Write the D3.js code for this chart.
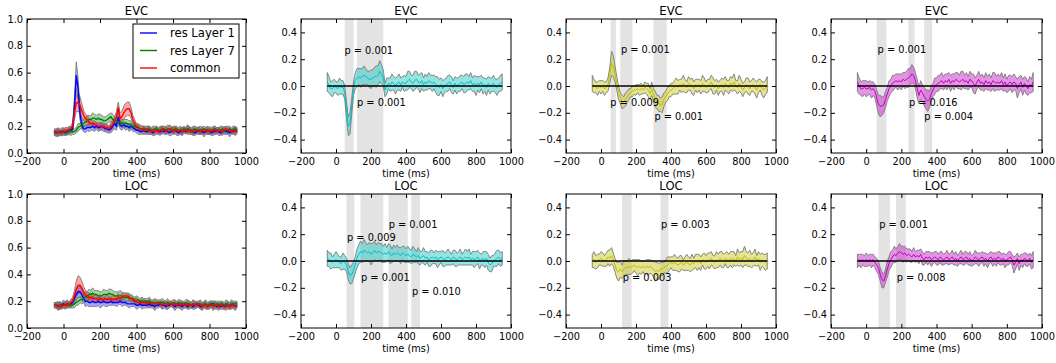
<!DOCTYPE html>
<html>
<head>
<meta charset="utf-8">
<script src="https://cdn.jsdelivr.net/npm/d3@7"></script>
<style>
body { margin: 0; background: #fff; }
text { font-family: "DejaVu Sans", sans-serif; fill: #000; }
</style>
</head>
<body>
<script>
// sampling grid of every series (ms)
var times = d3.range(-50, 951, 10);

// ---- EVC, decoding accuracy
var evcL1Mean = [
0.16,0.15,0.16,0.15,0.16,0.16,0.15,0.16,0.17,0.17,
0.18,0.35,0.58,0.48,0.30,0.21,0.18,0.18,0.19,0.19,
0.19,0.20,0.19,0.20,0.19,0.19,0.20,0.19,0.18,0.18,
0.17,0.18,0.20,0.22,0.20,0.27,0.21,0.20,0.21,0.20,
0.20,0.19,0.20,0.19,0.18,0.17,0.17,0.16,0.16,0.17,
0.16,0.16,0.17,0.16,0.15,0.16,0.17,0.16,0.16,0.17,
0.16,0.17,0.16,0.15,0.16,0.17,0.17,0.16,0.15,0.16,
0.16,0.17,0.16,0.18,0.17,0.16,0.16,0.15,0.16,0.17,
0.16,0.16,0.15,0.16,0.17,0.16,0.15,0.16,0.16,0.17,
0.16,0.15,0.16,0.17,0.16,0.16,0.15,0.16,0.16,0.17,
0.16];
var evcL1Err = [
0.02,0.03,0.02,0.02,0.03,0.02,0.02,0.02,0.03,0.02,
0.03,0.07,0.10,0.08,0.05,0.03,0.02,0.03,0.02,0.03,
0.02,0.03,0.03,0.02,0.03,0.02,0.03,0.03,0.02,0.03,
0.02,0.03,0.03,0.04,0.03,0.04,0.03,0.03,0.02,0.03,
0.02,0.03,0.02,0.03,0.02,0.02,0.03,0.02,0.02,0.03,
0.02,0.02,0.03,0.02,0.02,0.03,0.02,0.02,0.03,0.02,
0.02,0.03,0.02,0.02,0.03,0.02,0.02,0.03,0.02,0.02,
0.03,0.02,0.02,0.03,0.02,0.02,0.03,0.02,0.02,0.03,
0.02,0.02,0.03,0.02,0.03,0.02,0.02,0.03,0.02,0.02,
0.03,0.02,0.02,0.03,0.02,0.02,0.03,0.02,0.02,0.03,
0.02];
var evcL7Mean = [
0.15,0.15,0.16,0.15,0.15,0.16,0.16,0.15,0.16,0.16,
0.16,0.16,0.17,0.19,0.20,0.21,0.22,0.23,0.24,0.25,
0.25,0.26,0.26,0.25,0.26,0.25,0.25,0.24,0.24,0.25,
0.26,0.27,0.25,0.24,0.24,0.23,0.23,0.22,0.22,0.22,
0.22,0.21,0.21,0.20,0.20,0.19,0.19,0.18,0.18,0.18,
0.18,0.17,0.18,0.17,0.17,0.18,0.18,0.17,0.17,0.18,
0.18,0.17,0.18,0.18,0.17,0.17,0.18,0.18,0.17,0.17,
0.17,0.18,0.17,0.18,0.17,0.17,0.17,0.18,0.17,0.17,
0.17,0.17,0.18,0.17,0.17,0.16,0.17,0.17,0.18,0.17,
0.17,0.17,0.18,0.17,0.17,0.17,0.18,0.17,0.17,0.18,
0.17];
var evcL7Err = [
0.02,0.02,0.03,0.02,0.02,0.03,0.02,0.02,0.02,0.03,
0.02,0.02,0.02,0.03,0.02,0.03,0.03,0.03,0.04,0.03,
0.03,0.04,0.03,0.03,0.03,0.04,0.03,0.03,0.03,0.03,
0.03,0.03,0.04,0.03,0.03,0.03,0.03,0.03,0.03,0.03,
0.03,0.03,0.03,0.02,0.03,0.02,0.02,0.03,0.02,0.02,
0.02,0.03,0.02,0.02,0.03,0.02,0.02,0.02,0.03,0.02,
0.02,0.02,0.03,0.02,0.02,0.03,0.02,0.02,0.02,0.03,
0.02,0.02,0.02,0.03,0.02,0.02,0.03,0.02,0.02,0.02,
0.03,0.02,0.02,0.02,0.03,0.02,0.02,0.03,0.02,0.02,
0.02,0.03,0.02,0.02,0.03,0.02,0.02,0.02,0.03,0.02,
0.02];
var evcComMean = [
0.15,0.16,0.15,0.16,0.15,0.16,0.16,0.17,0.17,0.18,
0.20,0.30,0.37,0.38,0.36,0.32,0.28,0.26,0.25,0.23,
0.22,0.22,0.21,0.21,0.20,0.20,0.20,0.20,0.19,0.19,
0.18,0.20,0.21,0.24,0.27,0.34,0.26,0.27,0.30,0.32,
0.33,0.33,0.30,0.25,0.22,0.20,0.19,0.18,0.18,0.17,
0.17,0.18,0.17,0.16,0.17,0.16,0.17,0.16,0.17,0.17,
0.18,0.16,0.17,0.18,0.18,0.16,0.17,0.17,0.16,0.17,
0.16,0.17,0.17,0.16,0.17,0.16,0.16,0.17,0.17,0.16,
0.16,0.17,0.16,0.17,0.16,0.17,0.16,0.17,0.17,0.16,
0.17,0.17,0.16,0.17,0.18,0.17,0.17,0.16,0.17,0.16,
0.17];
var evcComErr = [
0.02,0.02,0.03,0.02,0.02,0.02,0.03,0.02,0.02,0.02,
0.03,0.05,0.06,0.07,0.06,0.05,0.04,0.03,0.03,0.03,
0.03,0.02,0.03,0.02,0.02,0.03,0.02,0.02,0.03,0.02,
0.02,0.03,0.03,0.03,0.04,0.04,0.04,0.04,0.05,0.05,
0.05,0.05,0.04,0.03,0.03,0.02,0.03,0.02,0.02,0.03,
0.02,0.02,0.03,0.02,0.02,0.02,0.03,0.02,0.02,0.03,
0.02,0.02,0.02,0.03,0.02,0.02,0.03,0.02,0.02,0.02,
0.03,0.02,0.02,0.02,0.03,0.02,0.02,0.03,0.02,0.02,
0.02,0.03,0.02,0.02,0.02,0.03,0.02,0.02,0.03,0.02,
0.02,0.02,0.03,0.02,0.02,0.03,0.02,0.02,0.02,0.03,
0.02];

// ---- LOC, decoding accuracy
var locL1Mean = [
0.17,0.17,0.16,0.17,0.17,0.18,0.17,0.18,0.17,0.18,
0.19,0.22,0.25,0.27,0.27,0.25,0.22,0.20,0.20,0.19,
0.19,0.20,0.19,0.19,0.20,0.19,0.19,0.20,0.19,0.19,
0.19,0.20,0.19,0.19,0.19,0.19,0.20,0.19,0.19,0.19,
0.18,0.18,0.18,0.18,0.18,0.17,0.17,0.18,0.17,0.17,
0.17,0.17,0.18,0.17,0.17,0.16,0.17,0.17,0.18,0.17,
0.17,0.16,0.17,0.17,0.18,0.17,0.16,0.17,0.17,0.17,
0.16,0.17,0.17,0.16,0.17,0.17,0.16,0.17,0.18,0.17,
0.16,0.16,0.17,0.17,0.16,0.17,0.18,0.18,0.17,0.16,
0.17,0.16,0.17,0.16,0.17,0.17,0.16,0.17,0.17,0.16,
0.17];
var locL1Err = [
0.02,0.02,0.03,0.02,0.02,0.03,0.02,0.02,0.02,0.03,
0.02,0.03,0.04,0.04,0.04,0.04,0.03,0.04,0.03,0.03,
0.03,0.04,0.03,0.03,0.03,0.04,0.03,0.03,0.03,0.03,
0.02,0.03,0.02,0.02,0.03,0.02,0.02,0.03,0.02,0.02,
0.02,0.03,0.02,0.02,0.02,0.03,0.02,0.02,0.03,0.02,
0.02,0.02,0.03,0.02,0.02,0.03,0.02,0.02,0.02,0.03,
0.02,0.02,0.03,0.02,0.02,0.02,0.03,0.02,0.02,0.02,
0.03,0.02,0.02,0.02,0.03,0.02,0.02,0.03,0.02,0.02,
0.02,0.03,0.02,0.02,0.02,0.03,0.02,0.02,0.03,0.02,
0.02,0.02,0.03,0.02,0.02,0.03,0.02,0.02,0.02,0.03,
0.02];
var locL7Mean = [
0.17,0.17,0.17,0.16,0.17,0.17,0.17,0.17,0.18,0.17,
0.17,0.18,0.19,0.20,0.21,0.21,0.22,0.23,0.24,0.25,
0.25,0.26,0.25,0.25,0.24,0.24,0.24,0.25,0.25,0.25,
0.26,0.25,0.25,0.24,0.24,0.24,0.24,0.24,0.23,0.23,
0.23,0.22,0.22,0.22,0.21,0.21,0.21,0.20,0.20,0.20,
0.20,0.20,0.20,0.19,0.19,0.19,0.19,0.19,0.19,0.19,
0.19,0.18,0.19,0.18,0.18,0.19,0.18,0.18,0.19,0.18,
0.18,0.18,0.19,0.18,0.18,0.17,0.18,0.18,0.17,0.18,
0.18,0.17,0.18,0.18,0.17,0.18,0.18,0.17,0.18,0.18,
0.17,0.18,0.18,0.17,0.18,0.18,0.17,0.18,0.18,0.18,
0.18];
var locL7Err = [
0.02,0.02,0.03,0.02,0.02,0.02,0.03,0.02,0.02,0.02,
0.02,0.03,0.02,0.03,0.02,0.03,0.03,0.04,0.03,0.04,
0.03,0.04,0.03,0.03,0.04,0.03,0.03,0.04,0.03,0.03,
0.03,0.04,0.03,0.03,0.03,0.03,0.04,0.03,0.03,0.03,
0.03,0.02,0.03,0.02,0.02,0.03,0.02,0.02,0.03,0.02,
0.02,0.02,0.03,0.02,0.02,0.03,0.02,0.02,0.02,0.03,
0.02,0.02,0.03,0.02,0.02,0.02,0.03,0.02,0.02,0.03,
0.02,0.02,0.02,0.03,0.02,0.02,0.03,0.02,0.02,0.02,
0.03,0.02,0.02,0.03,0.02,0.02,0.02,0.03,0.02,0.02,
0.03,0.02,0.02,0.02,0.03,0.02,0.02,0.03,0.02,0.02,
0.02];
var locComMean = [
0.17,0.17,0.16,0.17,0.16,0.17,0.17,0.18,0.17,0.19,
0.20,0.24,0.29,0.32,0.32,0.30,0.27,0.25,0.24,0.23,
0.23,0.22,0.22,0.22,0.21,0.22,0.21,0.21,0.22,0.21,
0.22,0.21,0.21,0.22,0.21,0.23,0.22,0.23,0.24,0.24,
0.24,0.23,0.22,0.21,0.20,0.20,0.19,0.19,0.19,0.19,
0.19,0.18,0.19,0.18,0.18,0.18,0.19,0.18,0.18,0.17,
0.18,0.18,0.17,0.18,0.18,0.17,0.18,0.17,0.18,0.17,
0.18,0.17,0.17,0.18,0.17,0.17,0.18,0.17,0.17,0.18,
0.17,0.16,0.17,0.17,0.16,0.17,0.17,0.16,0.17,0.17,
0.16,0.17,0.17,0.16,0.16,0.17,0.16,0.17,0.17,0.16,
0.17];
var locComErr = [
0.02,0.02,0.02,0.03,0.02,0.02,0.02,0.03,0.02,0.02,
0.03,0.04,0.06,0.07,0.06,0.05,0.04,0.03,0.03,0.03,
0.03,0.02,0.03,0.02,0.02,0.03,0.02,0.02,0.02,0.03,
0.02,0.02,0.03,0.02,0.02,0.03,0.02,0.03,0.02,0.02,
0.02,0.03,0.02,0.02,0.02,0.03,0.02,0.02,0.03,0.02,
0.02,0.02,0.03,0.02,0.02,0.03,0.02,0.02,0.02,0.03,
0.02,0.02,0.03,0.02,0.02,0.02,0.03,0.02,0.02,0.03,
0.02,0.02,0.02,0.03,0.02,0.02,0.03,0.02,0.02,0.02,
0.03,0.02,0.02,0.03,0.02,0.02,0.02,0.03,0.02,0.02,
0.03,0.02,0.02,0.02,0.03,0.02,0.02,0.03,0.02,0.02,
0.02];

// ---- EVC, differences
var evcCyanMean = [
0.03,0.01,-0.02,-0.02,0.00,-0.01,-0.02,0.00,-0.01,-0.01,
-0.05,-0.18,-0.30,-0.28,-0.15,-0.02,0.04,0.06,0.07,0.06,
0.07,0.08,0.07,0.06,0.05,0.05,0.06,0.07,0.07,0.08,
0.11,0.09,0.06,-0.03,0.00,0.02,0.01,0.03,0.02,0.00,
0.02,0.03,0.01,0.03,0.02,0.02,0.04,0.05,0.03,0.02,
0.04,0.05,0.03,0.02,0.04,0.01,0.03,0.02,0.04,0.03,
0.02,0.03,0.01,0.00,-0.01,0.01,-0.02,0.00,0.01,0.02,
0.03,0.01,-0.01,0.02,0.00,0.01,0.02,0.03,0.01,0.02,
0.03,0.02,0.04,0.01,0.02,0.00,0.02,0.01,0.03,0.00,
0.01,-0.01,0.02,0.00,0.01,0.02,0.00,-0.01,0.01,0.02,
0.03];
var evcCyanErr = [
0.07,0.06,0.05,0.06,0.05,0.04,0.05,0.06,0.05,0.05,
0.05,0.06,0.07,0.08,0.06,0.05,0.06,0.07,0.06,0.07,
0.06,0.07,0.06,0.05,0.06,0.07,0.06,0.07,0.08,0.07,
0.08,0.07,0.06,0.05,0.06,0.04,0.05,0.06,0.05,0.06,
0.05,0.06,0.05,0.04,0.06,0.05,0.07,0.06,0.05,0.06,
0.07,0.06,0.05,0.07,0.06,0.05,0.06,0.05,0.06,0.05,
0.06,0.05,0.06,0.07,0.06,0.05,0.06,0.05,0.05,0.06,
0.05,0.06,0.05,0.05,0.06,0.05,0.06,0.05,0.06,0.07,
0.06,0.05,0.06,0.05,0.06,0.07,0.05,0.06,0.05,0.06,
0.05,0.06,0.05,0.06,0.05,0.06,0.05,0.06,0.05,0.06,
0.06];
var evcCyanSpans = [[50, 100], [120, 270]];
var evcCyanLabels = [[48, 0.265, 'p = 0.001'], [120, -0.125, 'p = 0.001']];

var evcYellowMean = [
0.02,0.00,-0.01,-0.02,0.00,-0.01,0.00,-0.02,-0.01,0.01,
0.08,0.17,0.15,0.09,0.02,-0.05,-0.09,-0.12,-0.12,-0.10,
-0.08,-0.06,-0.05,-0.04,-0.03,-0.03,-0.02,-0.03,-0.02,-0.03,
-0.01,-0.02,-0.03,-0.06,-0.02,-0.07,-0.10,-0.12,-0.13,-0.14,
-0.14,-0.10,-0.08,-0.06,-0.04,-0.03,-0.02,-0.01,0.00,-0.01,
0.01,0.00,0.02,0.00,-0.01,0.02,0.01,0.00,-0.02,0.01,
0.00,0.01,-0.01,0.02,0.01,-0.01,0.00,0.01,0.03,0.00,
-0.01,0.01,-0.02,0.00,0.01,-0.01,0.02,0.00,-0.01,0.02,
0.01,0.03,0.00,-0.01,0.02,0.00,-0.03,-0.01,0.01,0.00,
-0.02,0.00,0.01,-0.01,-0.03,0.00,0.01,-0.02,-0.03,-0.01,
0.01];
var evcYellowErr = [
0.06,0.05,0.04,0.05,0.04,0.05,0.04,0.05,0.04,0.05,
0.06,0.09,0.08,0.06,0.05,0.05,0.04,0.05,0.04,0.05,
0.04,0.04,0.03,0.04,0.03,0.04,0.03,0.04,0.04,0.03,
0.04,0.04,0.05,0.04,0.05,0.05,0.06,0.05,0.06,0.05,
0.06,0.05,0.04,0.05,0.04,0.05,0.04,0.05,0.06,0.05,
0.04,0.05,0.06,0.05,0.04,0.05,0.04,0.06,0.05,0.04,
0.05,0.04,0.05,0.06,0.05,0.04,0.05,0.04,0.05,0.06,
0.05,0.04,0.05,0.04,0.05,0.06,0.05,0.04,0.05,0.05,
0.05,0.06,0.04,0.05,0.06,0.05,0.05,0.04,0.05,0.06,
0.05,0.04,0.05,0.05,0.06,0.05,0.04,0.05,0.06,0.05,
0.06];
var evcYellowSpans = [[55, 85], [110, 180], [300, 375]];
var evcYellowLabels = [[114, 0.27, 'p = 0.001'], [53, -0.125, 'p = 0.009'], [305, -0.23, 'p = 0.001']];

var evcMagentaMean = [
0.03,0.00,-0.02,-0.02,-0.01,-0.02,-0.02,-0.01,-0.03,-0.02,
-0.04,-0.09,-0.14,-0.15,-0.15,-0.14,-0.10,-0.06,-0.02,0.00,
0.02,0.03,0.04,0.03,0.04,0.03,0.05,0.04,0.05,0.06,
0.07,0.09,0.08,0.04,-0.02,-0.07,-0.03,-0.05,-0.08,-0.10,
-0.11,-0.10,-0.06,-0.03,0.00,0.01,0.02,0.03,0.04,0.02,
0.04,0.03,0.05,0.02,0.04,0.03,0.05,0.04,0.03,0.04,
0.05,0.03,0.04,0.02,0.05,0.04,0.02,0.00,0.03,0.05,
0.02,0.03,0.01,0.04,0.02,0.03,0.01,0.04,0.03,0.02,
0.03,0.02,0.04,0.01,0.03,0.00,0.02,0.03,0.01,0.03,
0.02,-0.02,0.01,0.03,-0.01,0.02,0.00,-0.02,0.01,0.00,
0.03];
var evcMagentaErr = [
0.07,0.06,0.05,0.06,0.05,0.06,0.05,0.05,0.06,0.05,
0.05,0.06,0.07,0.08,0.07,0.06,0.06,0.05,0.06,0.05,
0.06,0.05,0.05,0.06,0.05,0.06,0.05,0.06,0.06,0.07,
0.06,0.07,0.06,0.06,0.07,0.06,0.07,0.06,0.07,0.07,
0.08,0.06,0.06,0.05,0.06,0.05,0.06,0.05,0.06,0.05,
0.05,0.06,0.05,0.06,0.05,0.06,0.05,0.06,0.05,0.07,
0.06,0.05,0.06,0.05,0.06,0.05,0.07,0.06,0.05,0.06,
0.05,0.06,0.05,0.06,0.05,0.06,0.05,0.06,0.07,0.05,
0.06,0.05,0.06,0.05,0.06,0.05,0.06,0.05,0.06,0.06,
0.05,0.07,0.06,0.05,0.06,0.05,0.06,0.05,0.06,0.05,
0.07];
var evcMagentaSpans = [[60, 115], [240, 275], [330, 375]];
var evcMagentaLabels = [[65, 0.27, 'p = 0.001'], [243, -0.125, 'p = 0.016'], [331, -0.23, 'p = 0.004']];

// ---- LOC, differences
var locCyanMean = [
0.02,0.01,0.00,-0.01,0.00,0.01,0.00,-0.01,-0.02,0.00,
-0.01,-0.03,-0.08,-0.11,-0.10,-0.07,-0.03,0.02,0.05,0.07,
0.06,0.08,0.07,0.06,0.07,0.05,0.06,0.08,0.06,0.07,
0.07,0.06,0.05,0.06,0.05,0.07,0.05,0.04,0.06,0.05,
0.06,0.05,0.04,0.06,0.05,0.04,0.05,0.04,0.03,0.05,
0.04,0.03,0.04,0.02,0.03,0.04,0.02,0.03,0.01,0.02,
0.03,0.02,0.03,0.01,0.02,0.03,0.02,0.01,0.02,0.03,
0.02,0.01,0.03,0.02,0.01,0.02,0.03,0.01,0.02,0.03,
0.02,0.03,0.01,0.02,0.01,0.02,0.03,0.00,0.01,0.02,
0.01,0.02,-0.01,-0.03,-0.02,0.00,0.01,0.02,0.03,0.01,
0.02];
var locCyanErr = [
0.06,0.05,0.06,0.04,0.05,0.06,0.05,0.04,0.05,0.06,
0.05,0.05,0.06,0.06,0.07,0.06,0.06,0.07,0.07,0.08,
0.07,0.08,0.07,0.06,0.07,0.08,0.07,0.07,0.06,0.07,
0.06,0.07,0.06,0.07,0.05,0.06,0.07,0.05,0.06,0.05,
0.06,0.05,0.06,0.05,0.06,0.05,0.06,0.05,0.05,0.06,
0.05,0.04,0.06,0.05,0.04,0.06,0.05,0.04,0.05,0.06,
0.05,0.04,0.05,0.06,0.05,0.04,0.06,0.05,0.05,0.06,
0.05,0.04,0.05,0.06,0.05,0.05,0.06,0.04,0.05,0.06,
0.05,0.06,0.04,0.05,0.06,0.05,0.05,0.06,0.04,0.05,
0.06,0.05,0.06,0.05,0.06,0.04,0.05,0.06,0.05,0.05,
0.05];
var locCyanSpans = [[60, 105], [140, 270], [300, 410], [430, 480]];
var locCyanLabels = [[301, 0.27, 'p = 0.001'], [63, 0.175, 'p = 0.009'], [143, -0.125, 'p = 0.001'], [434, -0.23, 'p = 0.010']];

var locYellowMean = [
0.00,0.01,-0.01,0.00,0.01,0.02,0.01,0.00,0.01,0.03,
0.02,0.04,0.01,-0.03,-0.07,-0.08,-0.06,-0.08,-0.06,-0.05,
-0.05,-0.04,-0.05,-0.04,-0.03,-0.04,-0.05,-0.04,-0.05,-0.04,
-0.05,-0.04,-0.05,-0.04,-0.05,-0.06,-0.08,-0.07,-0.08,-0.06,
-0.06,-0.05,-0.04,-0.03,-0.02,-0.01,-0.02,-0.01,-0.02,-0.03,
-0.02,-0.01,-0.03,-0.02,-0.01,-0.02,-0.03,-0.01,-0.02,0.00,
-0.01,0.00,-0.02,0.01,0.00,-0.01,0.01,0.00,0.02,0.00,
-0.01,0.01,0.00,0.02,0.01,0.00,0.02,0.01,0.00,0.02,
0.01,0.02,0.00,0.03,0.01,0.02,0.01,0.04,0.02,0.01,
0.02,0.00,0.01,0.03,0.00,0.02,-0.01,0.01,0.00,-0.01,
0.00];
var locYellowErr = [
0.05,0.06,0.05,0.05,0.04,0.05,0.05,0.04,0.05,0.05,
0.06,0.06,0.05,0.05,0.06,0.07,0.06,0.05,0.06,0.05,
0.05,0.06,0.05,0.05,0.04,0.05,0.06,0.05,0.05,0.04,
0.05,0.05,0.06,0.05,0.05,0.06,0.07,0.06,0.06,0.05,
0.05,0.04,0.05,0.06,0.05,0.04,0.05,0.06,0.05,0.05,
0.06,0.05,0.04,0.05,0.06,0.05,0.05,0.06,0.04,0.05,
0.06,0.05,0.05,0.04,0.06,0.05,0.05,0.06,0.05,0.04,
0.05,0.06,0.05,0.05,0.06,0.05,0.04,0.06,0.05,0.05,
0.06,0.05,0.04,0.06,0.05,0.05,0.06,0.07,0.05,0.05,
0.06,0.05,0.05,0.06,0.04,0.05,0.06,0.05,0.05,0.06,
0.06];
var locYellowSpans = [[120, 175], [340, 385]];
var locYellowLabels = [[343, 0.27, 'p = 0.003'], [124, -0.125, 'p = 0.003']];

var locMagentaMean = [
0.00,0.01,0.00,0.01,0.00,0.01,0.00,0.01,0.00,0.01,
-0.01,-0.03,-0.05,-0.10,-0.14,-0.15,-0.11,-0.06,-0.02,0.01,
0.03,0.05,0.04,0.06,0.07,0.06,0.05,0.06,0.04,0.05,
0.04,0.03,0.05,0.03,0.04,0.03,0.05,0.02,0.01,0.03,
0.02,0.03,0.01,0.02,0.03,0.02,0.01,0.03,0.02,0.01,
0.02,0.03,0.01,0.02,0.03,0.01,0.02,0.00,0.02,0.03,
0.01,0.02,0.03,0.01,0.02,0.00,0.01,0.03,0.02,0.01,
0.02,0.03,0.01,0.02,0.00,0.02,0.03,0.01,0.02,0.01,
0.03,0.02,0.01,0.02,0.00,0.01,0.02,0.03,0.01,-0.03,
-0.01,0.02,-0.02,0.01,0.00,0.02,0.01,0.00,0.02,-0.01,
0.01];
var locMagentaErr = [
0.05,0.04,0.05,0.04,0.04,0.05,0.04,0.04,0.05,0.04,
0.04,0.05,0.05,0.05,0.06,0.05,0.05,0.06,0.05,0.06,
0.05,0.06,0.05,0.05,0.06,0.05,0.06,0.05,0.05,0.04,
0.05,0.04,0.05,0.04,0.04,0.05,0.04,0.05,0.04,0.04,
0.05,0.04,0.05,0.04,0.04,0.05,0.04,0.04,0.05,0.04,
0.04,0.05,0.04,0.04,0.05,0.04,0.05,0.04,0.04,0.05,
0.04,0.05,0.04,0.04,0.05,0.04,0.04,0.05,0.04,0.05,
0.04,0.04,0.05,0.04,0.05,0.04,0.04,0.05,0.04,0.05,
0.04,0.05,0.04,0.04,0.05,0.04,0.05,0.04,0.04,0.06,
0.05,0.04,0.05,0.04,0.05,0.04,0.05,0.04,0.04,0.05,
0.06];
var locMagentaSpans = [[70, 135], [170, 225]];
var locMagentaLabels = [[74, 0.27, 'p = 0.001'], [174, -0.125, 'p = 0.008']];

var legendNames = ['res Layer 1', 'res Layer 7', 'common'];
var lineColors = ['#0000ff', '#008000', '#ff0000'];

// layout of the 2 x 4 grid of axes
var cols = [{x: 27, w: 219}, {x: 301, w: 210}, {x: 566, w: 210}, {x: 831, w: 211}];
var rows = [{y: 19, h: 134}, {y: 194, h: 134}];

var panels = [
	{row: 0, col: 0, title: 'EVC', acc: true, legend: true,
		series: [[evcL1Mean, evcL1Err, lineColors[0]], [evcL7Mean, evcL7Err, lineColors[1]], [evcComMean, evcComErr, lineColors[2]]]},
	{row: 0, col: 1, title: 'EVC', series: [[evcCyanMean, evcCyanErr, '#00bfbf']], spans: evcCyanSpans, labels: evcCyanLabels},
	{row: 0, col: 2, title: 'EVC', series: [[evcYellowMean, evcYellowErr, '#bfbf00']], spans: evcYellowSpans, labels: evcYellowLabels},
	{row: 0, col: 3, title: 'EVC', series: [[evcMagentaMean, evcMagentaErr, '#bf00bf']], spans: evcMagentaSpans, labels: evcMagentaLabels},
	{row: 1, col: 0, title: 'LOC', acc: true,
		series: [[locL1Mean, locL1Err, lineColors[0]], [locL7Mean, locL7Err, lineColors[1]], [locComMean, locComErr, lineColors[2]]]},
	{row: 1, col: 1, title: 'LOC', series: [[locCyanMean, locCyanErr, '#00bfbf']], spans: locCyanSpans, labels: locCyanLabels},
	{row: 1, col: 2, title: 'LOC', series: [[locYellowMean, locYellowErr, '#bfbf00']], spans: locYellowSpans, labels: locYellowLabels},
	{row: 1, col: 3, title: 'LOC', series: [[locMagentaMean, locMagentaErr, '#bf00bf']], spans: locMagentaSpans, labels: locMagentaLabels}
];

var svg = d3.select('body').append('svg')
	.attr('width', 1056)
	.attr('height', 363);

panels.forEach(drawPanel);

function drawPanel(p) {
	var c = cols[p.col], r = rows[p.row];
	var g = svg.append('g').attr('transform', 'translate(' + c.x + ',' + r.y + ')');

	var x = d3.scaleLinear().domain([-200, 1000]).range([0, c.w]);
	var y = d3.scaleLinear().domain(p.acc ? [0, 1] : [-0.5, 0.5]).range([r.h, 0]);

	// significance spans
	(p.spans || []).forEach(function(s) {
		g.append('rect')
			.attr('x', x(s[0])).attr('y', 0)
			.attr('width', x(s[1]) - x(s[0])).attr('height', r.h)
			.attr('fill', '#e3e3e3');
	});

	// error bands then mean lines
	p.series.forEach(function(s) {
		var mean = s[0], err = s[1];
		var area = d3.area()
			.x(function(d, i) { return x(times[i]); })
			.y0(function(d, i) { return y(mean[i] - err[i]); })
			.y1(function(d, i) { return y(mean[i] + err[i]); });
		g.append('path')
			.attr('d', area(mean))
			.attr('fill', s[2])
			.attr('fill-opacity', p.acc ? 0.35 : 0.42)
			.attr('stroke', '#7a7a7a')
			.attr('stroke-width', 0.9);
	});
	p.series.forEach(function(s) {
		var line = d3.line()
			.x(function(d, i) { return x(times[i]); })
			.y(function(d) { return y(d); });
		g.append('path')
			.attr('d', line(s[0]))
			.attr('fill', 'none')
			.attr('stroke', s[2])
			.attr('stroke-width', p.acc ? 1.4 : 1);
	});

	if (!p.acc) {
		g.append('line')
			.attr('x1', x(times[0])).attr('x2', x(times[times.length - 1]))
			.attr('y1', y(0)).attr('y2', y(0))
			.attr('stroke', '#000').attr('stroke-width', 1.4);
	}

	(p.labels || []).forEach(function(l) {
		g.append('text')
			.attr('x', x(l[0])).attr('y', y(l[1]))
			.attr('dy', '0.35em')
			.style('font-size', '9.8px')
			.text(l[2]);
	});

	// axes, ticks inside on all four sides
	var yTicks = p.acc ? [0, 0.2, 0.4, 0.6, 0.8, 1.0] : [-0.4, -0.2, 0, 0.2, 0.4];
	var xTicks = [-200, 0, 200, 400, 600, 800, 1000];
	var xAxis = d3.axisBottom(x).tickValues(xTicks).tickFormat(d3.format('d'))
		.tickSizeInner(-4).tickSizeOuter(0).tickPadding(5);
	var yAxis = d3.axisLeft(y).tickValues(yTicks).tickFormat(d3.format('.1f'))
		.tickSizeInner(-4).tickSizeOuter(0).tickPadding(4);

	g.append('g').attr('transform', 'translate(0,' + r.h + ')').call(xAxis);
	g.append('g').call(yAxis);
	g.append('g').call(d3.axisTop(x).tickValues(xTicks).tickFormat('').tickSizeInner(-4).tickSizeOuter(0));
	g.append('g').attr('transform', 'translate(' + c.w + ',0)')
		.call(d3.axisRight(y).tickValues(yTicks).tickFormat('').tickSizeInner(-4).tickSizeOuter(0));
	g.selectAll('.domain').remove();
	g.selectAll('.tick line').attr('stroke', '#000');
	g.selectAll('.tick text').style('font-size', '9.8px').style('font-family', '"DejaVu Sans", sans-serif').attr('fill', '#000');

	g.append('rect')
		.attr('width', c.w).attr('height', r.h)
		.attr('fill', 'none').attr('stroke', '#000').attr('stroke-width', 1);

	g.append('text')
		.attr('x', c.w / 2).attr('y', -4)
		.attr('text-anchor', 'middle')
		.style('font-size', '11.6px')
		.text(p.title);
	g.append('text')
		.attr('x', c.w / 2).attr('y', r.h + 24)
		.attr('text-anchor', 'middle')
		.style('font-size', '9.8px')
		.text('time (ms)');

	if (p.legend) {
		var lg = g.append('g').attr('transform', 'translate(106,5)');
		lg.append('rect')
			.attr('width', 106).attr('height', 54)
			.attr('fill', '#fff').attr('stroke', '#000').attr('stroke-width', 1);
		legendNames.forEach(function(name, i) {
			var yy = 9 + i * 17.5;
			lg.append('line')
				.attr('x1', 7).attr('x2', 24).attr('y1', yy).attr('y2', yy)
				.attr('stroke', lineColors[i]).attr('stroke-width', 1.4);
			lg.append('text')
				.attr('x', 37).attr('y', yy).attr('dy', '0.35em')
				.style('font-size', '11.6px')
				.text(name);
		});
	}
}
</script>
</body>
</html>
